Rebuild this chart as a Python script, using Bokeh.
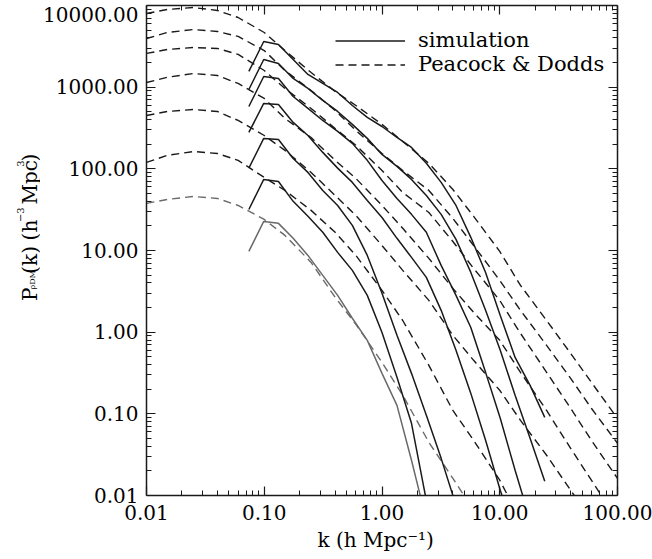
import math
from bokeh.plotting import figure
from bokeh.layouts import row
from bokeh.models import (LogAxis, FixedTicker, CustomJSTickFormatter, Legend,
                          LegendItem, Range1d)
from bokeh.core.properties import value
from bokeh.embed import file_html
from bokeh.resources import INLINE

# ---------------- data ----------------
# Peacock & Dodds curves (dashed), 7 redshifts, top to bottom
k_model = [0.01, 0.015, 0.025, 0.04, 0.06, 0.1, 0.15, 0.25, 0.4, 0.6, 1.0,
           1.5, 2.5, 4, 6, 10, 15, 25, 40, 60, 100]
pd_1 = [7980, 8930, 9450, 8690, 7130, 4670, 2810, 1510, 886, 597, 350, 216,
        117, 55.9, 26.2, 9.75, 3.74, 1.39, 0.55, 0.243, 0.088]
pd_2 = [3940, 4670, 5080, 4810, 4180, 2810, 1600, 911, 519, 295, 154, 95.6,
        54.4, 24.7, 11.5, 4.30, 1.85, 0.689, 0.272, 0.117, 0.0436]
pd_3 = [2590, 2890, 3060, 2980, 2520, 1600, 964, 549, 312, 194, 95.6, 51.4,
        29.2, 12.9, 6.04, 2.45, 0.967, 0.322, 0.117, 0.0474, 0.0162]
pd_4 = [1140, 1320, 1470, 1390, 1110, 727, 414, 242, 127, 76.3, 35.6, 18.7,
        8.0, 3.44, 1.75, 0.794, 0.322, 0.110, 0.0378, 0.0154, 0.005]
pd_5 = [450, 504, 533, 504, 391, 256, 168, 90.4, 47.2, 26.9, 11.5, 5.71,
        2.45, 0.914, 0.452, 0.194, 0.0833, 0.0311, 0.0116, 0.005]
pd_6 = [120, 146, 163, 154, 127, 78.5, 54.4, 31.0, 16.7, 8.71, 3.25, 1.39,
        0.392, 0.110, 0.0474, 0.0154, 0.005]
pd_7 = [37.7, 42.2, 45.9, 43.4, 35.6, 24.0, 15.3, 7.15, 2.67, 1.25, 0.427,
        0.169, 0.0448, 0.0162, 0.0066]

# simulation spectra (solid), same 7 redshifts
k_sim = [0.074, 0.099, 0.132, 0.176, 0.235, 0.314, 0.42, 0.56, 0.75, 1.0,
         1.34, 1.78, 2.38, 3.18, 4.25, 5.68, 7.58, 10.1, 13.5, 18.1, 24.1]
sim_1 = [1560, 3620, 3330, 2180, 1430, 1110, 861, 597, 426, 330, 242, 183,
         117, 68.2, 35.6, 14.5, 5.39, 1.60, 0.491, 0.223, 0.0906]
sim_2 = [937, 2180, 1950, 1280, 964, 688, 504, 350, 236, 150, 107, 74.2,
         47.2, 27.7, 13.7, 5.39, 1.85, 0.599, 0.169, 0.0501, 0.0149]
sim_3 = [580, 1350, 1280, 769, 549, 391, 287, 205, 127, 72.1, 43.4, 27.7,
         16.7, 6.57, 2.82, 1.14, 0.322, 0.0881, 0.0204, 0.005]
sim_4 = [279, 632, 614, 370, 256, 159, 102, 68.2, 41.0, 25.4, 14.1, 8.23,
         4.69, 1.85, 0.599, 0.178, 0.0474, 0.0116, 0.0033]
sim_5 = [102, 236, 229, 134, 90.4, 54.4, 35.6, 20.3, 8.71, 2.99, 0.914,
         0.313, 0.0959, 0.0285, 0.0076]
sim_6 = [31.8, 74.2, 70.1, 40.0, 26.2, 16.7, 9.48, 5.71, 2.82, 0.99, 0.280,
         0.0765, 0.0087]
sim_7 = [9.75, 22.7, 21.5, 14.1, 8.71, 4.96, 2.82, 1.48, 0.794, 0.313,
         0.127, 0.027, 0.005]

x_major = [0.01, 0.1, 1, 10, 100]
y_major = [0.01, 0.1, 1, 10, 100, 1000, 10000]
legend_labels = ["simulation", "Peacock & Dodds"]
x_title = "k  (h  Mpc\u207b\u00b9)"
# y title pieces: text, size, role (base / sub / sup)
y_title = [("P", "20px", "base"), ("\u03c1DM", "8px", "sub"),
           ("(k)", "20px", "base"), ("(h", "20px", "base"),
           ("\u22123", "10px", "sup"), ("Mpc", "20px", "base"),
           ("3", "10px", "sup"), (")", "20px", "base")]

# ---------------- layout constants ----------------
FONT = "DejaVu Serif"
INK = "#1a1a1a"
GREY = "#6a6a6a"
W, H = 652, 559
LEFT_W = 40

p = figure(width=W - LEFT_W, height=H, x_axis_type="log", y_axis_type="log",
           x_range=Range1d(0.01, 100), y_range=Range1d(0.01, 10000),
           output_backend="svg", toolbar_location=None,
           min_border_left=141 - LEFT_W, min_border_right=35,
           min_border_top=5, min_border_bottom=64)
p.xgrid.visible = False
p.ygrid.visible = False
p.outline_line_color = None


def minors(majors):
    out = []
    for m in majors[:-1]:
        out += [m * j for j in range(2, 10)]
    return out


xt = FixedTicker(ticks=x_major, minor_ticks=minors(x_major))
yt = FixedTicker(ticks=y_major, minor_ticks=minors(y_major))
fmt_x = CustomJSTickFormatter(code="return tick.toFixed(2);")
fmt_y = CustomJSTickFormatter(
    code="if (tick > 5000) { return '\\n' + tick.toFixed(2); } return tick.toFixed(2);")
blank = CustomJSTickFormatter(code="return '';")


def style_axis(ax, labels=True):
    ax.axis_line_color = INK
    ax.axis_line_width = 1.5
    ax.major_tick_line_color = INK
    ax.minor_tick_line_color = INK
    ax.major_tick_line_width = 1.2
    ax.minor_tick_line_width = 1.0
    ax.major_tick_in = 9
    ax.major_tick_out = 0
    ax.minor_tick_in = 5
    ax.minor_tick_out = 0
    ax.major_label_text_font = FONT
    ax.major_label_text_font_size = "20px"
    ax.major_label_text_color = "black"
    if not labels:
        ax.major_label_standoff = 0


p.xaxis.ticker = xt
p.xaxis.formatter = fmt_x
p.yaxis.ticker = yt
p.yaxis.formatter = fmt_y
style_axis(p.xaxis[0])
style_axis(p.yaxis[0])
p.yaxis.major_label_text_line_height = 0.1
p.xaxis.major_label_standoff = 9
p.yaxis.major_label_standoff = 8

p.xaxis.axis_label = x_title
p.xaxis.axis_label_text_font = FONT
p.xaxis.axis_label_text_font_size = "20px"
p.xaxis.axis_label_text_font_style = "normal"
p.xaxis.axis_label_text_color = "black"
p.xaxis.axis_label_standoff = 5

top = LogAxis(ticker=xt, formatter=blank)
right = LogAxis(ticker=yt, formatter=blank)
style_axis(top, labels=False)
style_axis(right, labels=False)
p.add_layout(top, "above")
p.add_layout(right, "right")

# ---------------- curves ----------------
dash = "8 5"
models = [pd_1, pd_2, pd_3, pd_4, pd_5, pd_6, pd_7]
sims = [sim_1, sim_2, sim_3, sim_4, sim_5, sim_6, sim_7]
r_model = []
for i, pk in enumerate(models):
    col = GREY if i == 6 else INK
    r = p.line(k_model[:len(pk)], pk, line_color=col, line_width=1.4,
               line_dash=dash)
    r_model.append(r)
r_sim = []
for i, pk in enumerate(sims):
    col = GREY if i == 6 else INK
    r = p.line(k_sim[:len(pk)], pk, line_color=col, line_width=1.5)
    r_sim.append(r)

legend = Legend(items=[LegendItem(label=legend_labels[0], renderers=[r_sim[0]]),
                       LegendItem(label=legend_labels[1], renderers=[r_model[0]])],
                location=(189, 419), border_line_color=None,
                background_fill_alpha=0, glyph_width=70, glyph_height=19,
                label_height=19, label_standoff=13, padding=0, spacing=0,
                margin=0, label_text_line_height=0.9,
                label_text_font=FONT, label_text_font_size="21px",
                label_text_color="black")
p.add_layout(legend)

# ---------------- y-axis title strip (left of the plot) ----------------
ly = figure(width=LEFT_W, height=H, x_range=Range1d(0, LEFT_W),
            y_range=Range1d(H, 0), output_backend="svg", toolbar_location=None,
            x_axis_location=None, y_axis_location=None,
            min_border=0, min_border_left=0, min_border_right=0,
            min_border_top=0, min_border_bottom=0)
ly.xgrid.visible = False
ly.ygrid.visible = False
ly.outline_line_color = None

# start position (page pixels) of each piece of the rotated title
piece_y = [337, 324, 306, 268, 247, 227, 184, 178]
role_x = {"base": 29, "sub": 32, "sup": 20}
for (txt, size, role), yy in zip(y_title, piece_y):
    ly.text(x=[role_x[role]], y=[yy], text=[txt], angle=math.pi / 2,
            text_font=value(FONT), text_font_size=size, text_color="black",
            text_align="left", text_baseline="alphabetic")

layout = row(ly, p, spacing=0)
open("out.html", "w").write(file_html(layout, INLINE))
